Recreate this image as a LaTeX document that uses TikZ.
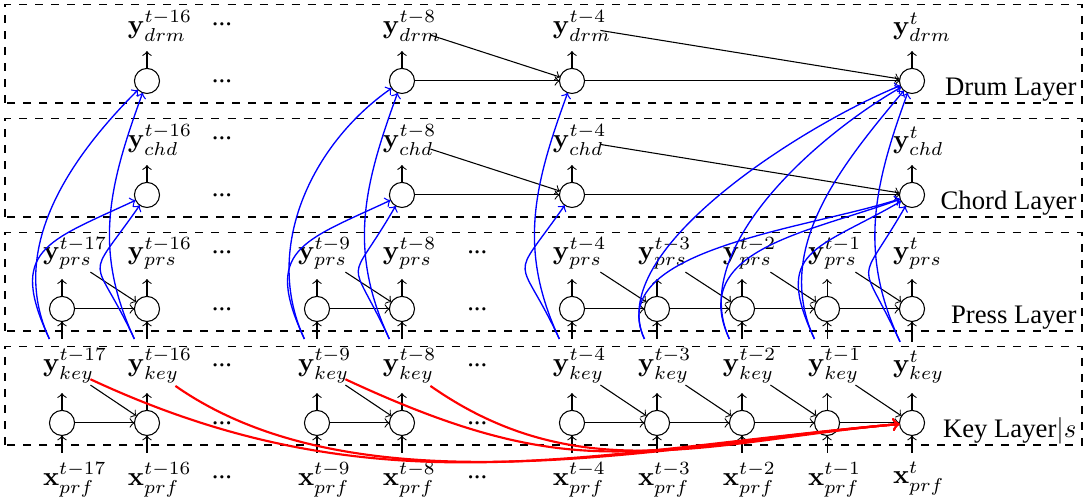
\documentclass[tikz,border=0pt]{standalone}
\usepackage[no-math]{fontspec}
\setmainfont{Liberation Serif}
\usetikzlibrary{positioning}
\tikzset{
	cell/.style={draw, circle, minimum size=3.3mm, inner sep=0pt, outer sep=0pt},
	lbl/.style={text width=5mm, align=left},
	ellip/.style={inner sep=1pt},
	layerbox/.style={dashed},
	layername/.style={anchor=base east, inner sep=0pt},
	keyup/.style={->, blue, line width=0.5pt},
	keyskip/.style={->, red, thick}
}
\begin{document}
\begin{tikzpicture}
	\useasboundingbox (0,0) rectangle (14.263,6.539);
	% dashed layer boxes
	\draw[layerbox] (0.066,0.684) rectangle (14.237,1.974);
	\draw[layerbox] (0.066,2.184) rectangle (14.237,3.474);
	\draw[layerbox] (0.066,3.684) rectangle (14.237,4.974);
	\draw[layerbox] (0.066,5.184) rectangle (14.237,6.474);
	\node[layername] (keyname) at (14.17,0.784) {Key Layer$|s$};
	\node[layername] (pressname) at (14.17,2.284) {Press Layer};
	\node[layername] (chordname) at (14.17,3.784) {Chord Layer};
	\node[layername] (drumname) at (14.17,5.284) {Drum Layer};
	% key and press layers
	\foreach \i/\x/\lag in {1/0.816/t-17, 2/1.934/t-16, 3/4.171/t-9, 4/5.289/t-8, 5/7.526/t-4, 6/8.645/t-3, 7/9.763/t-2, 8/10.882/t-1, 9/12.0/t}{
		\node[cell] (k\i) at (\x,0.974) {};
		\node[cell] (p\i) at (\x,2.474) {};
		\node[lbl, below=6.5pt of k\i] (xp\i) {$\mathbf{x}^{\lag}_{prf}$};
		\node[lbl, above=6.5pt of k\i] (yk\i) {$\mathbf{y}^{\lag}_{key}$};
		\node[lbl, above=6.5pt of p\i] (yp\i) {$\mathbf{y}^{\lag}_{prs}$};
	}
	% chord and drum layers
	\foreach \i/\x/\lag in {2/1.934/t-16, 4/5.289/t-8, 5/7.526/t-4, 9/12.0/t}{
		\node[cell] (c\i) at (\x,3.974) {};
		\node[cell] (d\i) at (\x,5.474) {};
		\node[lbl, above=6.5pt of c\i] (yc\i) {$\mathbf{y}^{\lag}_{chd}$};
		\node[lbl, above=6.5pt of d\i] (yd\i) {$\mathbf{y}^{\lag}_{drm}$};
	}
	% skipped steps
	\foreach \y/\n in {0.254/xp, 0.974/k, 1.734/yk, 2.474/p, 3.224/yp}{
		\node[ellip] (\n-gapa) at (2.92,\y) {...};
		\node[ellip] (\n-gapb) at (6.28,\y) {...};
	}
	\foreach \y/\n in {3.974/c, 4.724/yc, 5.474/d, 6.214/yd}{
		\node[ellip] (\n-gapa) at (2.92,\y) {...};
	}
	% inputs and outputs
	\foreach \i in {1,...,9}{
		\draw[->] (xp\i) -- (k\i);
		\draw[->] (k\i) -- (yk\i);
		\draw[->] (yk\i) -- (p\i);
		\draw[->] (p\i) -- (yp\i);
	}
	\foreach \i in {2,4,5,9}{
		\draw[->] (c\i) -- (yc\i);
		\draw[->] (d\i) -- (yd\i);
	}
	% recurrence
	\foreach \a/\b in {1/2, 3/4, 5/6, 6/7, 7/8, 8/9}{
		\draw[->] (k\a) -- (k\b);
		\draw[->] (p\a) -- (p\b);
		\draw[->] (yk\a) -- (k\b);
		\draw[->] (yp\a) -- (p\b);
	}
	\foreach \a/\b in {4/5, 5/9}{
		\draw[->] (c\a) -- (c\b);
		\draw[->] (d\a) -- (d\b);
		\draw[->] (yc\a) -- (c\b);
		\draw[->] (yd\a) -- (d\b);
	}
	% keys feed chord and drum
	\foreach \a/\b/\ci/\di in {1/2/205/225, 2/2/235/250, 3/4/205/215, 4/4/240/250, 5/5/235/250, 6/9/198/202, 7/9/200/210, 8/9/210/230, 9/9/240/250}{
		\draw[keyup] (yk\a) to[out=115, in=\ci, distance=1.3cm] (c\b);
		\draw[keyup] (yk\a) to[out=115, in=\di, distance=1.3cm] (d\b);
	}
	% long key skips
	\draw[keyskip] (yk1) to[out=-25, in=185] (k9);
	\draw[keyskip] (yk2) to[out=-35, in=185, looseness=0.8] (k9);
	\draw[keyskip] (yk3) to[out=-25, in=185, looseness=1.2] (k9);
	\draw[keyskip] (yk4) to[out=-35, in=185] (k9);
\end{tikzpicture}
\end{document}
